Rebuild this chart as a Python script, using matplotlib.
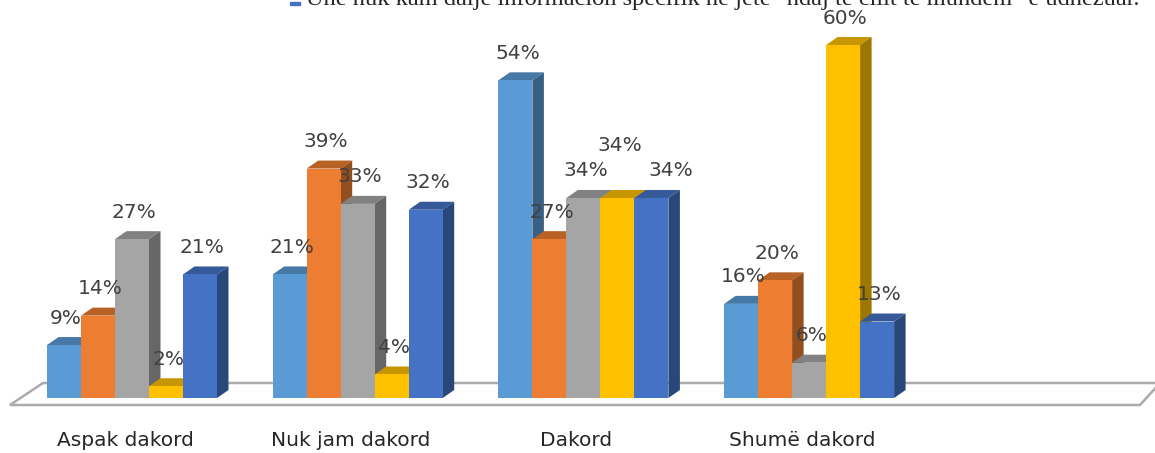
import matplotlib
matplotlib.use("Agg")
from matplotlib import pyplot as plt
from matplotlib.patches import Polygon
from matplotlib import colors as mcolors

# categories and series values (percent)
categories = ["Aspak dakord", "Nuk jam dakord", "Dakord", "Shumë dakord"]
series_colors = ["#5B9BD5", "#ED7D31", "#A5A5A5", "#FFC000", "#4472C4"]
values = [
    [9, 21, 54, 16],
    [14, 39, 27, 20],
    [27, 33, 34, 6],
    [2, 4, 34, 60],
    [21, 32, 34, 13],
]
legend_text = 'Unë nuk kam dalje informacion specifik në jetë "ndaj të cilit të mundem" e udhëzuar.'

# manual label nudges (series, group) -> (dx px, dy px), like the original
label_nudge = {(3, 2): (0, -25), (4, 2): (17, 0)}

W, H = 1155, 453
fig = plt.figure(figsize=(W / 100, H / 100), dpi=100)
ax = fig.add_axes([0, 0, 1, 1])
ax.set_axis_off()

grp_px = 225.7          # pixels per group
pct_px = 5.883          # pixels per percent
x0_px, y0_px = 132, 398 # pixel of group 0 centre / zero line
ax.set_xlim(-x0_px / grp_px, (W - x0_px) / grp_px)
ax.set_ylim(-(H - y0_px) / pct_px, y0_px / pct_px)

bw = 34 / grp_px
ddx = 11.5 / grp_px
ddy = 8 / pct_px

# floor
fl = Polygon([(-122 / grp_px, -7 / pct_px), (-89 / grp_px, 15 / pct_px),
              (1028 / grp_px, 15 / pct_px), (1008 / grp_px, -7 / pct_px)],
             closed=True, facecolor="white", edgecolor="#ababab", lw=1.8, zorder=1)
ax.add_patch(fl)


def shade(c, f):
    r, g, b = mcolors.to_rgb(c)
    return (r * f, g * f, b * f)


z = 2
for g in range(len(categories)):
    for s, vals in enumerate(values):
        v = vals[g]
        c = series_colors[s]
        xl = g + (s - 2.5) * bw
        xr = xl + bw
        top = Polygon([(xl, v), (xl + ddx, v + ddy), (xr + ddx, v + ddy), (xr, v)],
                      closed=True, facecolor=shade(c, 0.78), edgecolor="none", zorder=z)
        side = Polygon([(xr, 0), (xr, v), (xr + ddx, v + ddy), (xr + ddx, ddy)],
                       closed=True, facecolor=shade(c, 0.62), edgecolor="none", zorder=z)
        ax.add_patch(top)
        ax.add_patch(side)
        ax.bar(xl, v, width=bw, align="edge", color=c, zorder=z + 0.5, linewidth=0)
        z += 1

# data labels
for g in range(len(categories)):
    for s, vals in enumerate(values):
        v = vals[g]
        nx, ny = label_nudge.get((s, g), (0, 0))
        xc = g + (s - 2) * bw + (2 + nx) / grp_px
        yc = v + (27 - ny) / pct_px
        ax.text(xc, yc, f"{v}%", ha="center", va="center", fontsize=14.5,
                color="#404040", zorder=100)

# category labels
for g, name in enumerate(categories):
    ax.text(g - 7 / grp_px, -42 / pct_px, name, ha="center", va="center",
            fontsize=14.5, color="#262626")

# clipped legend at the top
fig.patches.append(plt.Rectangle((290 / W, 1 - 5 / H), 10 / W, 3 / H,
                                 transform=fig.transFigure, color="#4472C4"))
fig.text(306 / W, 1 - 5 / H, legend_text, family="Liberation Serif",
         fontsize=17.6, ha="left", va="baseline", color="#262626")

fig.savefig("out.png", dpi=100)
